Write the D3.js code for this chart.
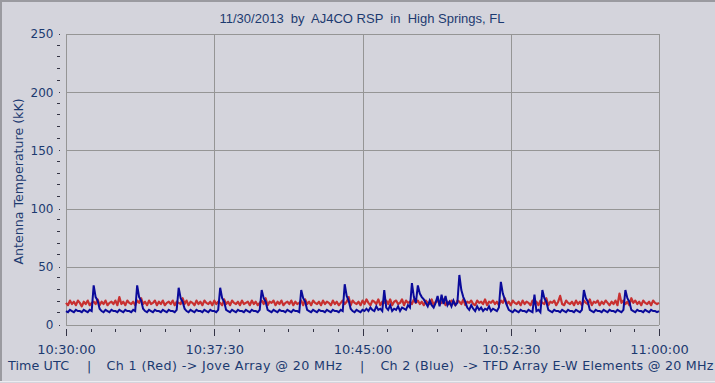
<!DOCTYPE html>
<html>
<head>
<meta charset="utf-8">
<script src="https://cdn.jsdelivr.net/npm/d3@7"></script>
<style>
    html, body { margin: 0; padding: 0; background: #d4d4dc; }
    svg { display: block; }
    text { white-space: pre; }
</style>
</head>
<body>
<svg class="graph" width="715" height="383"></svg>
<script>
// chart texts
const titleText = '11/30/2013  by  AJ4CO RSP  in  High Springs, FL';
const yTitle = 'Antenna Temperature (kK)';
const footerParts = ['Time UTC', '|', 'Ch 1 (Red) -> Jove Array @ 20 MHz', '|', 'Ch 2 (Blue)  -> TFD Array E-W Elements @ 20 MHz'];

// time range (UTC) and sampling step of the receiver
const startTime = '2013-11-30T10:30:00Z';
const endTime = '2013-11-30T11:00:00Z';
const stepSeconds = 6;
const majorStepSeconds = 450;   // 7.5 min
const minorStepSeconds = 75;

// y axis
const yMajor = [0, 50, 100, 150, 200, 250];
const yMinorStep = 10;

// Ch 1 (red) antenna temperature, kK, one value every 6 s
const ch1Red = [
    19,17,21,18,20,17,21,19,16,20,18,21,17,19,20,18,22,17,20,18,
    21,17,19,20,18,21,17,24,18,20,17,21,19,18,20,17,21,19,23,18,
    20,17,21,18,19,21,17,20,18,21,17,19,20,18,21,17,20,19,18,23,
    18,21,17,20,19,17,21,18,20,17,21,19,18,20,17,21,18,20,19,17,
    22,18,20,17,21,19,18,20,17,21,18,19,20,17,21,18,20,17,19,21,
    18,23,17,20,19,21,17,20,18,21,17,19,20,18,21,17,20,18,19,21,
    17,22,18,20,17,21,19,18,20,17,21,18,20,19,17,21,18,20,17,19,
    21,18,20,24,17,21,19,18,20,17,21,18,22,19,17,21,20,18,22,17,
    20,19,21,18,22,17,20,21,18,19,22,17,21,19,20,18,22,19,21,18,
    20,17,21,19,18,22,17,20,21,18,19,22,17,20,18,21,19,17,21,20,
    18,22,17,20,19,21,18,17,21,19,20,18,22,17,20,19,21,18,20,17,
    21,19,23,18,20,17,21,19,18,20,17,21,18,20,19,17,21,18,20,17,
    21,19,18,23,17,20,19,21,17,20,25,18,17,21,19,18,20,17,21,18,
    20,17,21,19,18,22,17,20,19,21,17,20,18,21,19,17,20,18,21,17,
    27,19,21,18,20,17,23,19,21,18,20,17,21,19,18,20,17,21,19,18,
    19
];

// Ch 2 (blue) antenna temperature, kK, one value every 6 s
const ch2Blue = [
    12,11,13,12,11,13,12,12,11,13,12,11,13,12,34,24,21,14,12,11,
    13,12,11,13,12,12,11,13,12,11,13,12,12,11,13,12,34,24,21,14,
    12,11,13,12,11,13,12,12,11,13,12,11,13,12,12,11,13,32,23,20,
    14,12,11,13,12,11,13,12,12,11,13,12,11,13,12,12,11,13,32,23,
    20,13,12,11,13,12,11,13,12,12,11,13,12,11,13,12,12,11,13,30,
    23,20,13,12,11,13,12,11,13,12,12,11,13,12,11,13,12,12,11,30,
    23,20,13,12,11,13,12,11,13,12,12,11,13,12,11,13,12,12,11,13,
    12,35,25,21,14,12,11,13,12,11,13,12,14,12,15,13,12,16,13,14,
    12,30,15,13,17,12,14,13,16,12,15,14,13,17,15,36,24,19,34,27,
    24,22,19,16,21,17,15,19,25,16,26,18,25,17,20,16,21,17,19,43,
    30,24,20,15,13,17,14,12,16,13,15,12,14,13,16,12,14,13,12,15,
    37,27,22,17,13,12,11,13,12,11,13,12,12,11,13,12,11,26,12,13,
    11,30,23,20,13,12,11,13,12,12,11,13,12,11,13,12,12,11,13,12,
    11,13,30,23,20,13,12,11,13,12,12,11,13,12,11,13,12,12,11,13,
    12,11,13,30,23,20,13,12,11,13,12,12,11,13,12,11,13,12,12,11,
    12
];

// colours
const textColor = '#1c3a70';
const gridColor = '#959595';
const tickColor = '#333344';
const redColor = '#c83030';
const blueColor = '#0a0a9a';

// plot area
const plot = { left: 66, right: 659, top: 34, bottom: 325 };

const svg = d3.select('svg.graph');

const t0 = new Date(startTime);
const t1 = new Date(endTime);

const x = d3.scaleUtc().domain([t0, t1]).range([plot.left, plot.right]);
const y = d3.scaleLinear().domain([0, 250]).range([plot.bottom, plot.top]);

const timeAt = i => new Date(+t0 + i * stepSeconds * 1000);
const majorTimes = d3.range(+t0, +t1 + 1, majorStepSeconds * 1000).map(t => new Date(t));
const minorTimes = d3.range(+t0, +t1 + 1, minorStepSeconds * 1000).map(t => new Date(t))
    .filter(t => (t - t0) % (majorStepSeconds * 1000) !== 0);
const yMinor = d3.range(0, 251, yMinorStep).filter(v => !yMajor.includes(v));

// outer frame
svg.append('line').attr('x1', 0).attr('x2', 715).attr('y1', 1).attr('y2', 1)
    .attr('stroke', '#9a9aa0').attr('stroke-width', 2);
svg.append('line').attr('x1', 1).attr('x2', 1).attr('y1', 0).attr('y2', 381)
    .attr('stroke', '#9a9aa0').attr('stroke-width', 2);
svg.append('line').attr('x1', 0).attr('x2', 715).attr('y1', 381.5).attr('y2', 381.5)
    .attr('stroke', '#ececf0').attr('stroke-width', 1);

// title
svg.append('text')
    .attr('x', 362).attr('y', 23)
    .attr('text-anchor', 'middle')
    .attr('font-family', 'Liberation Sans, Arial, sans-serif')
    .attr('font-size', 13)
    .attr('fill', textColor)
    .text(titleText);

//// grid
const grid = svg.append('g').attr('stroke', gridColor).attr('shape-rendering', 'crispEdges');
grid.selectAll('line.h').data(yMajor).join('line')
    .attr('class', 'h')
    .attr('x1', plot.left).attr('x2', plot.right)
    .attr('y1', d => Math.round(y(d)) + 0.5).attr('y2', d => Math.round(y(d)) + 0.5);
grid.selectAll('line.v').data(majorTimes).join('line')
    .attr('class', 'v')
    .attr('y1', plot.top).attr('y2', plot.bottom)
    .attr('x1', d => Math.round(x(d)) + 0.5).attr('x2', d => Math.round(x(d)) + 0.5);

//// series
const line = d3.line()
    .x((d, i) => x(timeAt(i)))
    .y(d => y(d));

svg.append('path')
    .datum(ch1Red)
    .attr('fill', 'none')
    .attr('stroke', redColor)
    .attr('stroke-width', 2.2)
    .attr('stroke-linejoin', 'round')
    .attr('d', line);

svg.append('path')
    .datum(ch2Blue)
    .attr('fill', 'none')
    .attr('stroke', blueColor)
    .attr('stroke-width', 2)
    .attr('d', line);

//// x axis (ticks hang below the plot)
const xAxisY = 329;
const fmt = d3.utcFormat('%H:%M:%S');

const xMajorAxis = svg.append('g')
    .attr('transform', `translate(0, ${xAxisY})`)
    .call(d3.axisBottom(x).tickValues(majorTimes).tickFormat(fmt).tickSize(7).tickPadding(9));
const xMinorAxis = svg.append('g')
    .attr('transform', `translate(0, ${xAxisY})`)
    .call(d3.axisBottom(x).tickValues(minorTimes).tickFormat('').tickSize(3));

//// y axis (small marks left of the plot)
const yAxisX = 60;
const yMajorAxis = svg.append('g')
    .attr('transform', `translate(${yAxisX}, 0)`)
    .call(d3.axisLeft(y).tickValues(yMajor).tickSize(1.5).tickPadding(5));
const yMinorAxis = svg.append('g')
    .attr('transform', `translate(${yAxisX}, -1)`)
    .call(d3.axisLeft(y).tickValues(yMinor).tickFormat('').tickSize(3));

[xMajorAxis, xMinorAxis, yMajorAxis, yMinorAxis].forEach(ax => {
    ax.select('.domain').remove();
    ax.selectAll('line').attr('stroke', tickColor).attr('shape-rendering', 'crispEdges');
    ax.selectAll('text')
        .attr('fill', textColor)
        .attr('font-family', 'DejaVu Sans, Verdana, sans-serif');
});
xMajorAxis.selectAll('text').attr('font-size', 13);
yMajorAxis.selectAll('text').attr('font-size', 12);

// y axis title
svg.append('text')
    .attr('transform', 'translate(23, 181.5) rotate(-90)')
    .attr('text-anchor', 'middle')
    .attr('font-family', 'DejaVu Sans, Verdana, sans-serif')
    .attr('font-size', 12.6)
    .attr('fill', textColor)
    .text(yTitle);

// footer legend line (widths match the original's wider font)
const footerX = [8, 87, 106.5, 360, 380.5];
const footerLen = [61, null, 235.5, null, 333];
svg.append('g')
    .attr('font-family', 'DejaVu Sans, Verdana, sans-serif')
    .attr('font-size', 12.7)
    .attr('fill', textColor)
    .selectAll('text').data(footerParts).join('text')
    .attr('x', (d, i) => footerX[i])
    .attr('y', 370)
    .each(function (d, i) {
        if (footerLen[i]) d3.select(this).attr('textLength', footerLen[i]).attr('lengthAdjust', 'spacing');
    })
    .text(d => d);
</script>
</body>
</html>
